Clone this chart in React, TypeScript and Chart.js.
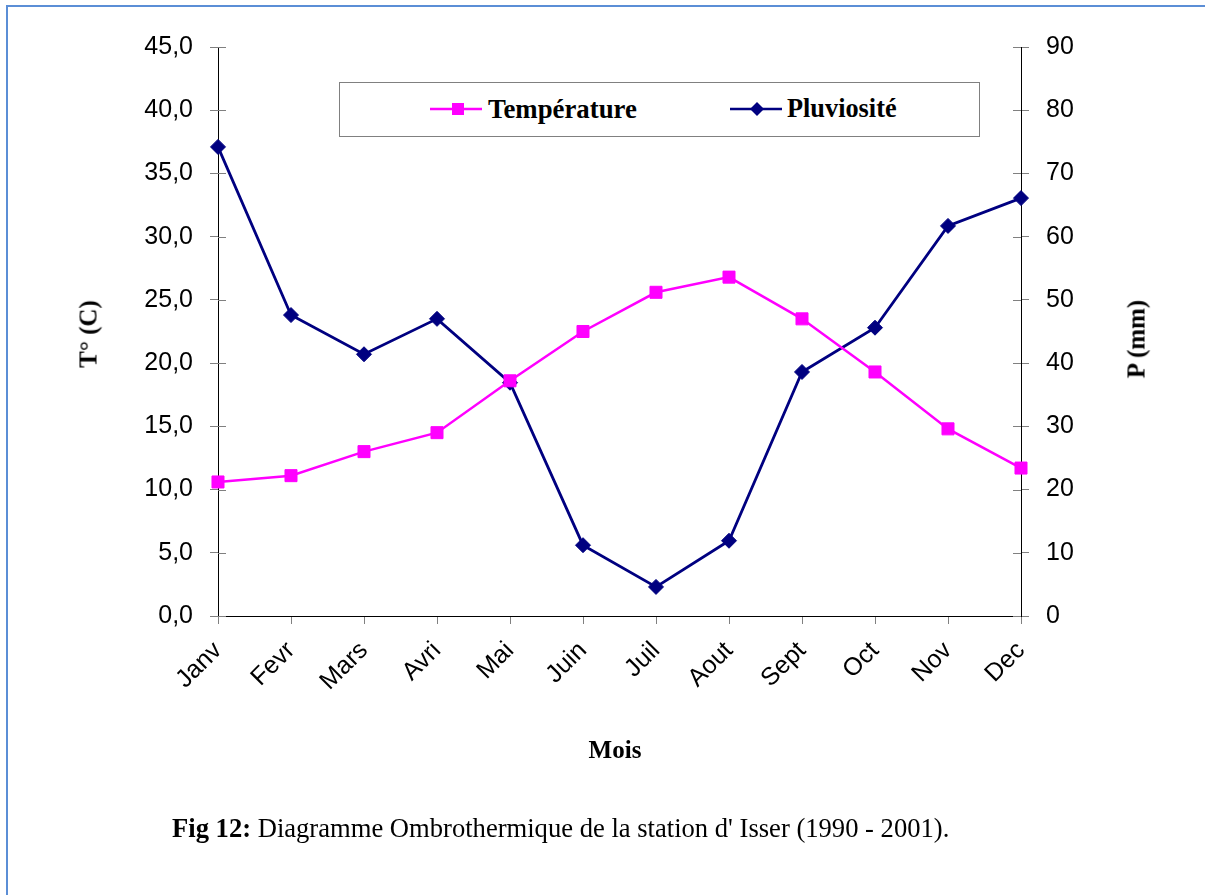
import React, { useEffect, useRef } from "react";
import { Chart, registerables } from "chart.js";

Chart.register(...registerables);

const months = ["Janv", "Fevr", "Mars", "Avri", "Mai", "Juin", "Juil", "Aout", "Sept", "Oct", "Nov", "Dec"];
const temperature = [10.6, 11.1, 13.0, 14.5, 18.6, 22.5, 25.6, 26.8, 23.5, 19.3, 14.8, 11.7];
const pluviosite = [74.2, 47.6, 41.4, 47.0, 36.9, 11.2, 4.6, 11.9, 38.6, 45.6, 61.7, 66.1];
const tempTicks = { min: 0, max: 45, step: 5 };
const rainTicks = { min: 0, max: 90, step: 10 };

const W = 1205;
const H = 895;
const PLOT_LEFT = 218;
const PLOT_RIGHT = 1021;
const PLOT_TOP = 47;
const PLOT_BOTTOM = 616;

const innerTicks = {
  id: "innerTicks",
  beforeDatasetsDraw(chart: any) {
    const ctx = chart.ctx;
    ctx.save();
    ctx.strokeStyle = "#808080";
    ctx.lineWidth = 1;
    const y = chart.scales.y;
    const y1 = chart.scales.y1;
    const ca = chart.chartArea;
    y.ticks.forEach((t: any, i: number) => {
      const py = Math.round(y.getPixelForTick(i)) + 0.5;
      ctx.beginPath();
      ctx.moveTo(ca.left, py);
      ctx.lineTo(ca.left + 8, py);
      ctx.stroke();
    });
    y1.ticks.forEach((t: any, i: number) => {
      const py = Math.round(y1.getPixelForTick(i)) + 0.5;
      ctx.beginPath();
      ctx.moveTo(ca.right - 8, py);
      ctx.lineTo(ca.right, py);
      ctx.stroke();
    });
    ctx.restore();
  },
};

export default function App() {
  const ref = useRef<HTMLCanvasElement | null>(null);

  useEffect(() => {
    if (!ref.current) return;
    const chart = new Chart(ref.current, {
      type: "line",
      data: {
        labels: months,
        datasets: [
          {
            label: "Température",
            data: temperature,
            yAxisID: "y",
            borderColor: "#ff00ff",
            backgroundColor: "#ff00ff",
            pointBackgroundColor: "#ff00ff",
            pointBorderColor: "#ff00ff",
            pointStyle: "rect",
            pointRadius: 8.5,
            pointBorderWidth: 1,
            borderWidth: 2.5,
            tension: 0,
          },
          {
            label: "Pluviosité",
            data: pluviosite,
            yAxisID: "y1",
            borderColor: "#000080",
            backgroundColor: "#000080",
            pointBackgroundColor: "#000080",
            pointBorderColor: "#000080",
            pointStyle: "rectRot",
            pointRadius: 7.5,
            pointBorderWidth: 1,
            borderWidth: 2.8,
            tension: 0,
          },
        ],
      },
      options: {
        responsive: false,
        animation: false,
        layout: { padding: { top: PLOT_TOP, left: 0, right: 0, bottom: 0 } },
        plugins: {
          legend: { display: false },
          tooltip: { enabled: false },
          title: { display: false },
        },
        scales: {
          x: {
            type: "category",
            offset: false,
            grid: {
              display: true,
              drawOnChartArea: false,
              drawTicks: true,
              tickLength: 8,
              tickColor: "#808080",
            },
            border: { display: true, color: "#000", width: 1 },
            ticks: {
              autoSkip: false,
              maxRotation: 45,
              minRotation: 45,
              padding: 12,
              color: "#000",
              font: { family: "'Liberation Sans', Arial, sans-serif", size: 25 },
            },
            afterFit(scale: any) {
              scale.height = H - PLOT_BOTTOM;
            },
          },
          y: {
            position: "left",
            min: tempTicks.min,
            max: tempTicks.max,
            grid: {
              display: true,
              drawOnChartArea: false,
              drawTicks: true,
              tickLength: 8,
              tickColor: "#808080",
            },
            border: { display: true, color: "#000", width: 1 },
            ticks: {
              stepSize: tempTicks.step,
              padding: 17,
              color: "#000",
              font: { family: "'Liberation Sans', Arial, sans-serif", size: 25 },
              callback: (v: any) => Number(v).toFixed(1).replace(".", ","),
            },
            afterFit(scale: any) {
              scale.width = PLOT_LEFT;
            },
          },
          y1: {
            position: "right",
            min: rainTicks.min,
            max: rainTicks.max,
            grid: {
              display: true,
              drawOnChartArea: false,
              drawTicks: true,
              tickLength: 8,
              tickColor: "#808080",
            },
            border: { display: true, color: "#000", width: 1 },
            ticks: {
              stepSize: rainTicks.step,
              padding: 17,
              color: "#000",
              font: { family: "'Liberation Sans', Arial, sans-serif", size: 25 },
            },
            afterFit(scale: any) {
              scale.width = W - PLOT_RIGHT;
            },
          },
        },
      } as any,
      plugins: [innerTicks],
    });
    return () => chart.destroy();
  }, []);

  const serif = "'Liberation Serif', 'Times New Roman', serif";

  return (
    <div
      style={{
        position: "absolute",
        left: 0,
        top: 0,
        width: W,
        height: H,
        overflow: "hidden",
        background: "#fff",
        fontFamily: serif,
        color: "#000",
      }}
    >
      <div
        style={{
          position: "absolute",
          left: 6,
          top: 5,
          width: 1400,
          height: 1200,
          border: "2px solid #5b8ed6",
          boxSizing: "border-box",
        }}
      />
      <canvas ref={ref} width={W} height={H} style={{ position: "absolute", left: 0, top: 0, width: W, height: H }} />

      {/* Legend */}
      <div
        style={{
          position: "absolute",
          left: 339,
          top: 82,
          width: 641,
          height: 55,
          border: "1px solid #808080",
          boxSizing: "border-box",
          background: "#fff",
        }}
      />
      <svg style={{ position: "absolute", left: 430, top: 99 }} width={52} height={20}>
        <line x1={0} y1={10} x2={52} y2={10} stroke="#ff00ff" strokeWidth={2.5} />
        <rect x={22} y={4} width={12} height={12} fill="#ff00ff" />
      </svg>
      <div style={{ position: "absolute", left: 488, top: 96, fontSize: 26.8, lineHeight: "26px", fontWeight: "bold", whiteSpace: "nowrap" }}>
        Température
      </div>
      <svg style={{ position: "absolute", left: 730, top: 99 }} width={52} height={20}>
        <line x1={0} y1={10} x2={52} y2={10} stroke="#000080" strokeWidth={2.5} />
        <polygon points="27,3 34,10 27,17 20,10" fill="#000080" />
      </svg>
      <div style={{ position: "absolute", left: 787, top: 96, fontSize: 26.3, lineHeight: "26px", fontWeight: "bold", whiteSpace: "nowrap" }}>
        Pluviosité
      </div>

      {/* Axis titles */}
      <div
        style={{
          position: "absolute",
          left: 88,
          top: 334,
          fontSize: 25,
          lineHeight: "25px",
          fontWeight: "bold",
          whiteSpace: "nowrap",
          transform: "translate(-50%, -50%) rotate(-90deg)",
        }}
      >
        T° (C)
      </div>
      <div
        style={{
          position: "absolute",
          left: 1136,
          top: 339,
          fontSize: 25,
          lineHeight: "25px",
          fontWeight: "bold",
          whiteSpace: "nowrap",
          transform: "translate(-50%, -50%) rotate(-90deg)",
        }}
      >
        P (mm)
      </div>
      <div
        style={{
          position: "absolute",
          left: 615,
          top: 737,
          fontSize: 25,
          lineHeight: "25px",
          fontWeight: "bold",
          whiteSpace: "nowrap",
          transform: "translateX(-50%)",
        }}
      >
        Mois
      </div>

      {/* Caption */}
      <div style={{ position: "absolute", left: 172, top: 815, fontSize: 26.6, lineHeight: "26px", whiteSpace: "nowrap" }}>
        <b>Fig 12:</b> Diagramme Ombrothermique de la station d' Isser (1990 - 2001).
      </div>
    </div>
  );
}
